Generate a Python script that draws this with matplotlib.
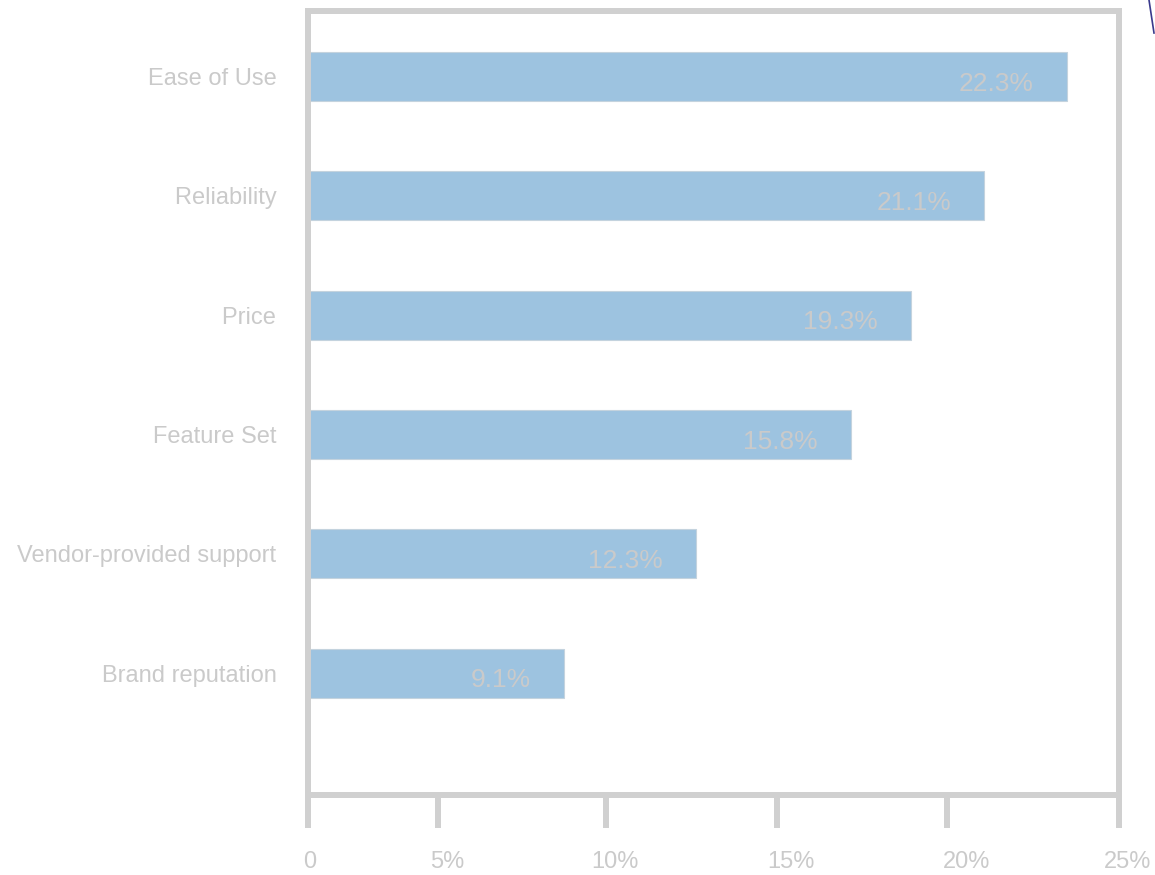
import matplotlib
matplotlib.use("Agg")
import matplotlib.pyplot as plt
from matplotlib.lines import Line2D

# ---- data ----
categories = ["Ease of Use", "Reliability", "Price", "Feature Set",
              "Vendor-provided support", "Brand reputation"]
shares = [22.3, 21.1, 19.3, 15.8, 12.3, 9.1]          # printed values (%)
bar_extent = [23.4, 20.85, 18.6, 16.75, 11.95, 7.9]    # drawn bar lengths (%)
tick_marks = [0, 4.0, 9.2, 14.45, 19.7, 25]            # tick mark positions (%)
tick_label_pos = [0.05, 4.3, 9.45, 14.9, 20.3, 25.25]  # tick label positions (%)
tick_labels = ["0", "5%", "10%", "15%", "20%", "25%"]

GRAY = "#d0d0d0"
TXT = "#cacaca"
BAR = "#9dc3e0"

plt.rcParams["font.family"] = ["Liberation Sans", "DejaVu Sans"]

fig = plt.figure(figsize=(11.55, 8.75), dpi=100)
ax = fig.add_axes([308 / 1155, 1 - 795 / 875, (1119 - 308) / 1155, (795 - 11) / 875])

ypos = list(range(len(categories)))
ax.barh(ypos, bar_extent, height=0.41, color=BAR, edgecolor="#c4d3de", linewidth=0.8, zorder=2)

for y, ext, v in zip(ypos, bar_extent, shares):
    ax.annotate(f"{v}%", xy=(ext, y), xytext=(-24, -5), textcoords="offset points",
                ha="right", va="center", color=TXT, fontsize=19, zorder=3)

ax.set_yticks(ypos)
ax.set_yticklabels([c + " " for c in categories])
ax.tick_params(axis="y", length=0, pad=18, labelsize=17, labelcolor=TXT)

ax.set_xticks(tick_marks)
ax.set_xticklabels([""] * len(tick_marks))
ax.tick_params(axis="x", which="major", length=24, width=4.3, color=GRAY, direction="out")

for p, lab in zip(tick_label_pos, tick_labels):
    ax.annotate(lab, xy=(p, 0), xycoords=("data", "axes fraction"),
                xytext=(0, -48), textcoords="offset points", ha="center", va="center",
                color=TXT, fontsize=17, annotation_clip=False)

ax.set_xlim(0, 25)
ax.set_ylim(len(categories) - 1 + 1.02, -0.55)

for s in ax.spines.values():
    s.set_color(GRAY)
    s.set_linewidth(4.3)

fig.add_artist(Line2D([1149 / 1155, 1154 / 1155], [1.0, 1 - 33 / 875],
                      transform=fig.transFigure, color="#3a3a8c", linewidth=1.2))

fig.savefig("out.png", dpi=100)
